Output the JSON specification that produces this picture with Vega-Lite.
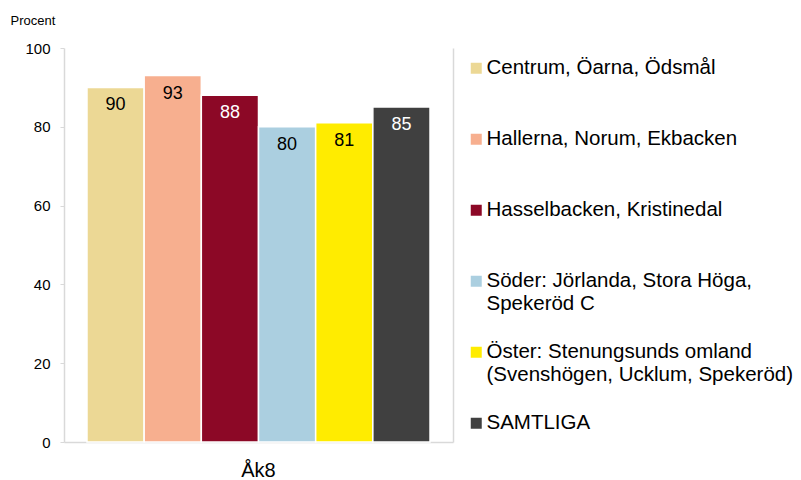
{
  "$schema": "https://vega.github.io/schema/vega-lite/v6.json",
  "width": 389,
  "height": 394,
  "autosize": {"type": "none"},
  "padding": {"left": 64, "top": 48, "right": 348, "bottom": 38},
  "background": "white",
  "config": {
    "font": "Liberation Sans",
    "view": {"stroke": null}
  },
  "data": {
    "values": [
      {"ak": "Åk8", "omrade": "Centrum, Öarna, Ödsmål", "procent": 90},
      {"ak": "Åk8", "omrade": "Hallerna, Norum, Ekbacken", "procent": 93},
      {"ak": "Åk8", "omrade": "Hasselbacken, Kristinedal", "procent": 88},
      {"ak": "Åk8", "omrade": "Söder: Jörlanda, Stora Höga, Spekeröd C", "procent": 80},
      {"ak": "Åk8", "omrade": "Öster: Stenungsunds omland (Svenshögen, Ucklum, Spekeröd)", "procent": 81},
      {"ak": "Åk8", "omrade": "SAMTLIGA", "procent": 85}
    ]
  },
  "encoding": {
    "x": {
      "field": "ak",
      "type": "nominal",
      "scale": {"paddingInner": 0, "paddingOuter": 0.067},
      "axis": {
        "title": null,
        "labelAngle": 0,
        "labelFontSize": 20,
        "labelColor": "black",
        "ticks": false,
        "labelPadding": 18,
        "domainColor": "#d9d9d9",
        "domainWidth": 1.5
      }
    },
    "xOffset": {
      "field": "omrade",
      "type": "nominal",
      "scale": {
        "domain": [
          "Centrum, Öarna, Ödsmål",
          "Hallerna, Norum, Ekbacken",
          "Hasselbacken, Kristinedal",
          "Söder: Jörlanda, Stora Höga, Spekeröd C",
          "Öster: Stenungsunds omland (Svenshögen, Ucklum, Spekeröd)",
          "SAMTLIGA"
        ],
        "paddingInner": 0,
        "paddingOuter": 0
      }
    }
  },
  "layer": [
    {
      "mark": {"type": "bar", "stroke": "white", "strokeWidth": 1.5},
      "encoding": {
        "y": {
          "field": "procent",
          "type": "quantitative",
          "scale": {"domain": [0, 100]},
          "axis": {
            "values": [0, 20, 40, 60, 80, 100],
            "grid": false,
            "tickSize": 4,
            "tickColor": "#d9d9d9",
            "domainColor": "#d9d9d9",
            "domainWidth": 1.5,
            "labelFontSize": 15,
            "labelColor": "black",
            "labelPadding": 10,
            "title": "Procent",
            "titleAngle": 0,
            "titleAlign": "left",
            "titleBaseline": "middle",
            "titleX": -54,
            "titleY": -28,
            "titleFontSize": 13,
            "titleFontWeight": "normal",
            "titleColor": "black"
          }
        },
        "color": {
          "field": "omrade",
          "type": "nominal",
          "scale": {
            "domain": [
              "Centrum, Öarna, Ödsmål",
              "Hallerna, Norum, Ekbacken",
              "Hasselbacken, Kristinedal",
              "Söder: Jörlanda, Stora Höga, Spekeröd C",
              "Öster: Stenungsunds omland (Svenshögen, Ucklum, Spekeröd)",
              "SAMTLIGA"
            ],
            "range": ["#ecd895", "#f7af8f", "#8c0826", "#abcfe0", "#ffec00", "#404040"]
          },
          "legend": {
            "orient": "none",
            "legendX": 402,
            "legendY": 10,
            "title": null,
            "padding": 0,
            "symbolType": "square",
            "symbolSize": 121,
            "symbolStrokeWidth": 0,
            "symbolOpacity": 1,
            "labelFontSize": 20.5,
            "labelColor": "black",
            "labelOffset": 0,
            "labelLimit": 400,
            "labelBaseline": "middle",
            "gridAlign": "all",
            "rowPadding": 27,
            "labelExpr": "datum.label == 'Söder: Jörlanda, Stora Höga, Spekeröd C' ? ['Söder: Jörlanda, Stora Höga,', 'Spekeröd C'] : datum.label == 'Öster: Stenungsunds omland (Svenshögen, Ucklum, Spekeröd)' ? ['Öster: Stenungsunds omland', '(Svenshögen, Ucklum, Spekeröd)'] : datum.label",
            "encode": {"labels": {"update": {"lineHeight": {"value": 24}}}}
          }
        }
      }
    },
    {
      "mark": {"type": "text", "baseline": "middle", "dy": 18, "fontSize": 18},
      "encoding": {
        "y": {
          "field": "procent",
          "type": "quantitative",
          "axis": {
            "orient": "right",
            "labels": false,
            "ticks": false,
            "grid": false,
            "title": null,
            "domainColor": "#d9d9d9",
            "domainWidth": 1.5
          }
        },
        "text": {"field": "procent", "type": "quantitative"},
        "color": {
          "condition": {"test": "datum.omrade == 'Hasselbacken, Kristinedal' || datum.omrade == 'SAMTLIGA'", "value": "white"},
          "value": "black"
        }
      }
    }
  ],
  "resolve": {"axis": {"y": "independent"}}
}
